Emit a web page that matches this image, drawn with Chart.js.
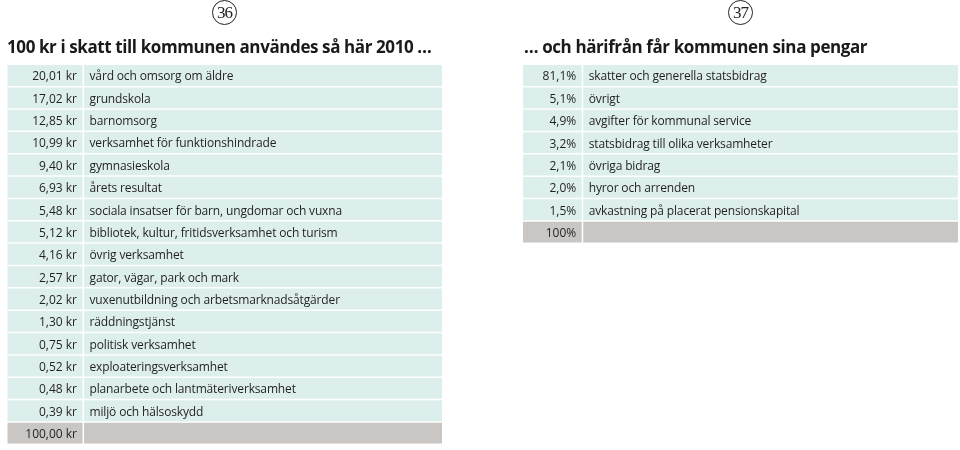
<!DOCTYPE html>
<html><head><meta charset="utf-8">
<script src="https://cdn.jsdelivr.net/npm/chart.js@4"></script>
<style>
body{margin:0;width:960px;height:450px;background:#fff;position:relative;overflow:hidden;font-family:'Open Sans',sans-serif;}
.wrap{position:absolute;top:0;width:480px;height:450px;}
canvas{display:block}
.title{position:absolute;top:35px;font-weight:bold;font-size:17px;color:#1a1a1a;white-space:nowrap;font-family:'Open Sans',sans-serif;letter-spacing:-0.4px}
.pg{position:absolute;top:0;width:23px;height:23px;border:1px solid #222;border-radius:50%;text-align:center;line-height:24px;font-family:'Liberation Serif',serif;font-size:17px;letter-spacing:-1px;color:#222}
</style></head>
<body>
<div class="wrap" style="left:0"><canvas id="left" width="480" height="450"></canvas></div>
<div class="wrap" style="left:480px"><canvas id="right" width="480" height="450"></canvas></div>
<div class="pg" style="left:212px">36</div>
<div class="pg" style="left:728px">37</div>
<div class="title" style="left:7px">100 kr i skatt till kommunen användes så här 2010 …</div>
<div class="title" style="left:524px">… och härifrån får kommunen sina pengar</div>
<script>
// ---- data ----
const expenseLabels = [
  "vård och omsorg om äldre",
  "grundskola",
  "barnomsorg",
  "verksamhet för funktionshindrade",
  "gymnasieskola",
  "årets resultat",
  "sociala insatser för barn, ungdomar och vuxna",
  "bibliotek, kultur, fritidsverksamhet och turism",
  "övrig verksamhet",
  "gator, vägar, park och mark",
  "vuxenutbildning och arbetsmarknadsåtgärder",
  "räddningstjänst",
  "politisk verksamhet",
  "exploateringsverksamhet",
  "planarbete och lantmäteriverksamhet",
  "miljö och hälsoskydd"
];
const expenseValues = [20.01, 17.02, 12.85, 10.99, 9.40, 6.93, 5.48, 5.12, 4.16, 2.57, 2.02, 1.30, 0.75, 0.52, 0.48, 0.39];
const expenseTotal = 100.00;

const incomeLabels = [
  "skatter och generella statsbidrag",
  "övrigt",
  "avgifter för kommunal service",
  "statsbidrag till olika verksamheter",
  "övriga bidrag",
  "hyror och arrenden",
  "avkastning på placerat pensionskapital"
];
const incomeValues = [81.1, 5.1, 4.9, 3.2, 2.1, 2.0, 1.5];
const incomeTotal = 100;

// ---- rendering ----
const TEAL = '#dcefec', GRAY = '#c9c6c3', INK = '#231f20';
const fmtKr = v => v.toFixed(2).replace('.', ',') + ' kr';
const fmtPct = v => v.toFixed(1).replace('.', ',') + '%';

const cellText = {
  id: 'cellText',
  afterDatasetsDraw(chart, args, opts) {
    const ctx = chart.ctx;
    const m0 = chart.getDatasetMeta(0), m1 = chart.getDatasetMeta(1);
    ctx.save();
    ctx.font = '12px "Open Sans"';
    ctx.fillStyle = INK;
    ctx.textBaseline = 'middle';
    m0.data.forEach((bar, i) => {
      ctx.letterSpacing = '0px';
      ctx.textAlign = 'right';
      ctx.fillText(opts.values[i], bar.x - 5.5, bar.y + 1.5);
      const lb = m1.data[i];
      ctx.letterSpacing = '-0.15px';
      ctx.textAlign = 'left';
      ctx.fillText(chart.data.labels[i], lb.base + 5.5, lb.y + 1.5);
    });
    ctx.restore();
  }
};

function makeTable(id, labels, valueTexts, split, padding) {
  const rows = labels.concat(['']);
  const colors = rows.map((_, i) => i === rows.length - 1 ? GRAY : TEAL);
  new Chart(document.getElementById(id), {
    type: 'bar',
    data: {
      labels: rows,
      datasets: [
        { data: rows.map(() => [0, split]), backgroundColor: colors, grouped: false,
          barPercentage: 0.933, categoryPercentage: 1 },
        { data: rows.map(() => [split + 0.35, 100]), backgroundColor: colors, grouped: false,
          barPercentage: 0.933, categoryPercentage: 1 }
      ]
    },
    options: {
      indexAxis: 'y',
      responsive: false,
      animation: false,
      layout: { padding },
      scales: {
        x: { display: false, min: 0, max: 100 },
        y: { display: false }
      },
      plugins: { legend: { display: false }, tooltip: { enabled: false }, cellText: { values: valueTexts } }
    },
    plugins: [cellText]
  });
}

makeTable('left', expenseLabels,
  expenseValues.map(fmtKr).concat([fmtKr(expenseTotal)]), 17.3,
  { left: 7.3, right: 38, top: 64.3, bottom: 5.7 });
makeTable('right', incomeLabels,
  incomeValues.map(fmtPct).concat([incomeTotal + '%']), 13.5,
  { left: 43, right: 2, top: 64.3, bottom: 206.7 });
</script>
</body></html>
